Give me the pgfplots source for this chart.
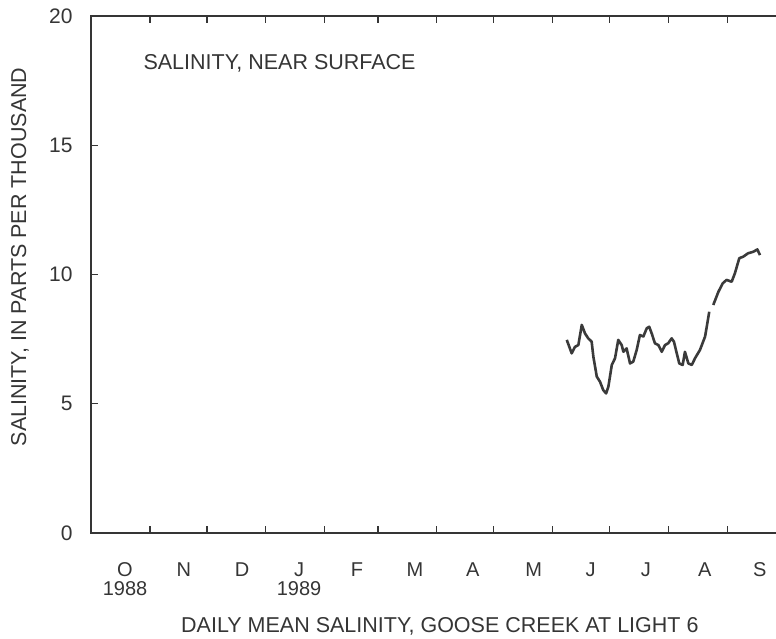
\documentclass[border=0pt]{standalone}
\usepackage{pgfplots}
\pgfplotsset{compat=1.18}
\usepackage{fontspec}
\setmainfont{Liberation Sans}
\definecolor{ln}{HTML}{3a3a3a}
\definecolor{ax}{HTML}{353535}
\begin{document}
\begin{tikzpicture}
\useasboundingbox (-91pt,-106pt) rectangle (685pt,533pt);
\begin{axis}[
  at={(0pt,0pt)}, anchor=south west,
  scale only axis, width=693.5pt, height=517pt,
  xmin=0, xmax=365, ymin=0, ymax=20,
  axis line style={ax, line width=1.5pt},
  tick style={ax, line width=1.2pt},
  major tick length=7pt,
  tick align=inside, tick pos=both,
  xtick={31,61,92,123,151,182,212,243,273,304,335},
  xticklabels={},
  extra x ticks={17.9,48.9,79.5,109.5,140,170.5,201,233,263,292,323,352},
  extra x tick labels={O\\1988,N,D,J\\1989,F,M,A,M,J,J,A,S},
  extra x tick style={major tick length=0pt, tick style={draw=none},
     xticklabel style={align=center, anchor=north, yshift=-26pt, font=\fontsize{20}{19}\selectfont, text=ax}},
  ytick={0,5,10,15,20},
  yticklabel style={font=\fontsize{21}{21}\selectfont, text=ax, xshift=-15pt},
  /pgf/number format/assume math mode=true,
  clip=false,
]
\addplot[ln, line width=2.6pt, line join=round] table {
250.4 7.47
253.0 6.95
254.7 7.20
256.5 7.27
258.3 8.05
260.0 7.72
261.7 7.53
263.5 7.40
264.4 6.82
266.2 6.05
267.9 5.85
269.6 5.53
271.1 5.40
272.3 5.66
274.1 6.50
275.8 6.76
277.5 7.47
279.3 7.27
280.2 7.01
281.9 7.14
283.7 6.56
285.4 6.63
287.2 7.08
288.9 7.66
290.7 7.60
292.5 7.92
293.8 7.98
295.1 7.72
296.8 7.34
298.6 7.27
300.4 7.01
302.1 7.27
303.8 7.34
305.6 7.53
306.8 7.40
308.3 6.95
309.6 6.56
311.4 6.50
312.6 7.01
314.4 6.56
316.2 6.50
317.9 6.76
320.5 7.08
323.2 7.60
325.4 8.56
};
\addplot[ln, line width=2.6pt, line join=round] table {
327.5 8.82
330.2 9.33
332.5 9.66
334.5 9.79
337.2 9.72
338.9 10.05
341.2 10.63
343.3 10.69
345.8 10.82
348.6 10.88
350.7 10.97
352.1 10.75
};
\node[anchor=base west, font=\fontsize{21.5}{22}\selectfont, text=ax] at (rel axis cs:0.0707,0.8956) {SALINITY, NEAR SURFACE};
\node[rotate=90, anchor=center, font=\fontsize{21.5}{22}\selectfont, text=ax] at ([xshift=-71pt]rel axis cs:0,0.534) {SALINITY, IN PARTS PER THOUSAND};
\node[anchor=center, font=\fontsize{21.5}{22}\selectfont, text=ax] at ([yshift=-93pt]rel axis cs:0.503,0) {DAILY MEAN SALINITY, GOOSE CREEK AT LIGHT 6};
\end{axis}
\end{tikzpicture}
\end{document}
